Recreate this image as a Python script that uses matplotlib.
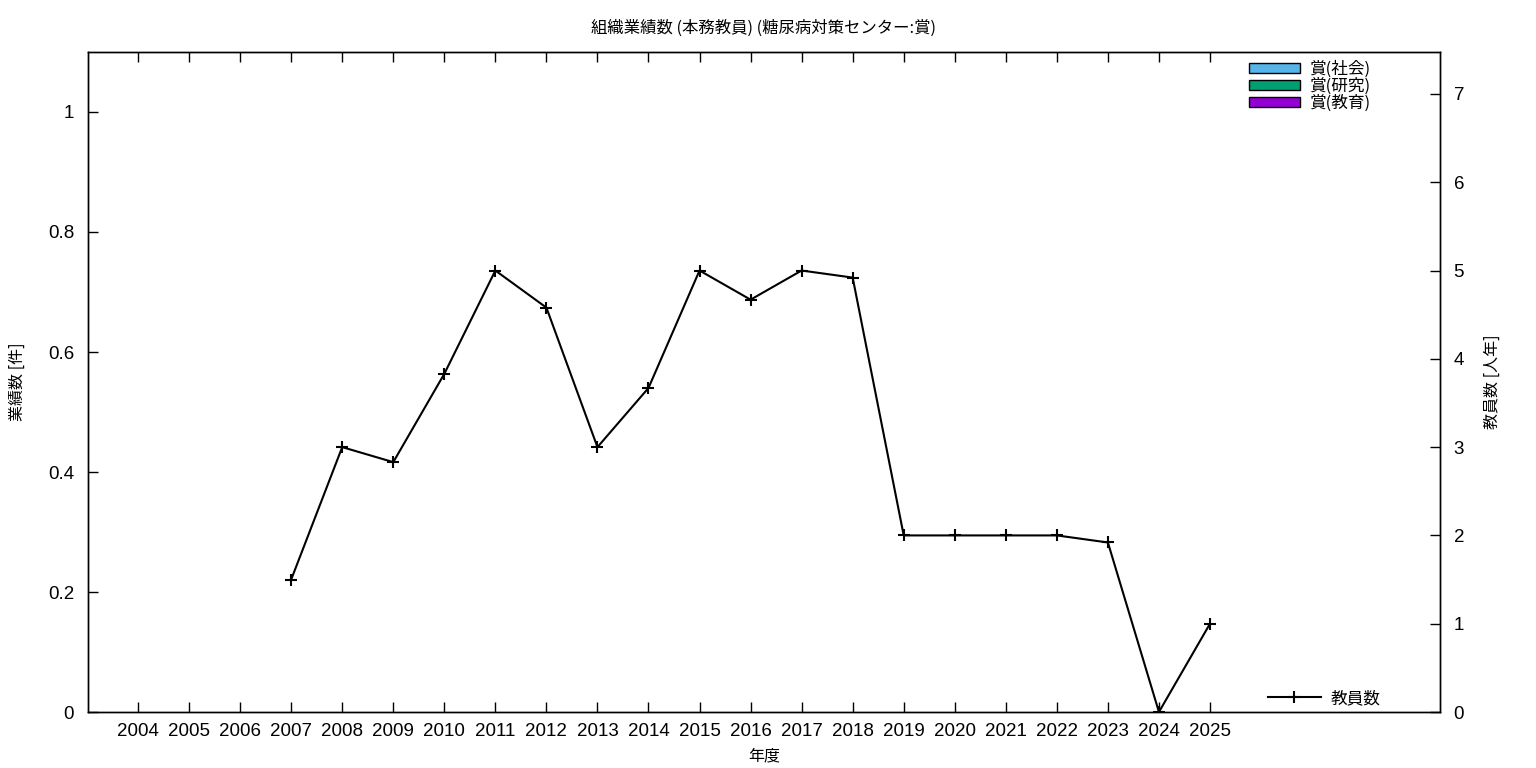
import matplotlib
matplotlib.use("Agg")
import matplotlib.pyplot as plt
from matplotlib.patches import Patch
from matplotlib.lines import Line2D

plt.rcParams["font.family"] = ["Noto Sans CJK JP", "DejaVu Sans"]

years = list(range(2004, 2026))
# award counts (all zero for this organisation)
award_social = [0] * len(years)
award_research = [0] * len(years)
award_education = [0] * len(years)

staff_years = [2007, 2008, 2009, 2010, 2011, 2012, 2013, 2014, 2015, 2016,
               2017, 2018, 2019, 2020, 2021, 2022, 2023, 2024, 2025]
staff_count = [1.5, 3.0, 2.83, 3.83, 5.0, 4.58, 3.0, 3.67, 5.0, 4.67,
               5.0, 4.92, 2.0, 2.0, 2.0, 2.0, 1.92, 0.0, 1.0]

bar_colors = ["#56B4E9", "#009E73", "#9400D3"]
bar_labels = ["賞(社会)", "賞(研究)", "賞(教育)"]

fig = plt.figure(figsize=(15.36, 7.68), dpi=100)
ax = fig.add_axes([0.0573, 0.0729, 0.88, 0.8594])

bottom = [0] * len(years)
for vals, col in zip([award_social, award_research, award_education], bar_colors):
    ax.bar(years, vals, bottom=bottom, width=0.5, color=col, linewidth=0)
    bottom = [b + v for b, v in zip(bottom, vals)]

tick_font = ["Liberation Sans", "DejaVu Sans"]

ax.set_xlim(2003.02, 2029.5)
ax.set_ylim(0, 1.1)
ax.set_xticks(years)
ax.set_xticklabels([str(y) for y in years], family=tick_font, fontsize=13.5)
ax.set_yticks([0, 0.2, 0.4, 0.6, 0.8, 1.0])
ax.set_yticklabels(["0", "0.2", "0.4", "0.6", "0.8", "1"], family=tick_font, fontsize=13.5)
ax.tick_params(axis="x", direction="in", length=7, width=1, top=True, pad=8)
ax.tick_params(axis="y", direction="in", length=7, width=1, pad=10)
ax.set_xlabel("年度", fontsize=11.5, labelpad=5)
ax.set_ylabel("業績数 [件]", fontsize=11.5, labelpad=16)
ax.set_title("組織業績数 (本務教員) (糖尿病対策センター:賞)", fontsize=11.8, pad=14)

ax2 = ax.twinx()
ax2.plot(staff_years, staff_count, color="black", linewidth=1.5, marker="+",
         markersize=8, markeredgewidth=1.5)
ax2.set_ylim(0, 7.475)
ax2.set_yticks(range(0, 8))
ax2.set_yticklabels([str(v) for v in range(0, 8)], family=tick_font, fontsize=13.5)
ax2.tick_params(axis="y", direction="in", length=7, width=1, pad=10)
ax2.set_ylabel("教員数 [人年]", fontsize=11.5, labelpad=14)

for a in (ax, ax2):
    for s in a.spines.values():
        s.set_linewidth(1)

handles = [Patch(facecolor=c, edgecolor="black", label=l) for c, l in zip(bar_colors, bar_labels)]
leg1 = ax2.legend(handles=handles, loc="upper right", bbox_to_anchor=(0.958, 1.005),
                  frameon=False, fontsize=12, handlelength=3.05, handleheight=0.55,
                  labelspacing=0.0, handletextpad=0.6, borderpad=0.2)
ax2.add_artist(leg1)
line_handle = Line2D([], [], color="black", linewidth=1.5, marker="+",
                     markersize=8, markeredgewidth=1.5, label="教員数")
ax2.legend(handles=[line_handle], loc="lower right", bbox_to_anchor=(0.967, -0.015),
           frameon=False, fontsize=12, handlelength=3.2, handletextpad=0.55)

fig.savefig("out.png", dpi=100)
